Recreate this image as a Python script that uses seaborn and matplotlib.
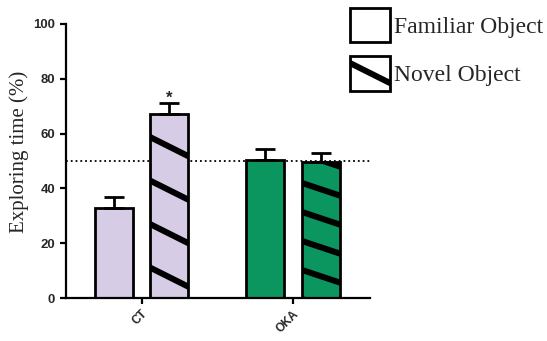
import numpy as np
import pandas as pd
import matplotlib.pyplot as plt
import matplotlib.hatch as mhatch
import seaborn as sns
from matplotlib.patches import Patch
from matplotlib.path import Path

groups = ['CT', 'OKA']
objects = ['Familiar Object', 'Novel Object']
familiar_mean = [33, 50.5]
novel_mean = [67, 49.5]
familiar_sem = [4, 4]
novel_sem = [4, 3.5]
group_colors = ['#D6CCE6', '#0B9660']
novel_hatch = ['\\', '\\\\']  # CT stripes are wider apart than OKA ones

pre_data = pd.DataFrame({
    'group': groups * 2,
    'object': [objects[0]] * 2 + [objects[1]] * 2,
    'value': familiar_mean + novel_mean,
    'sem': familiar_sem + novel_sem,
})


# thick shallow stripes: '\\' -> slope 1/2, two per cell; '\\\\' -> slope 1/3, three per cell
class ShallowHatch(mhatch.HatchPatternBase):
    def __init__(self, hatch, density):
        n = hatch.count('\\')
        if n == 0:
            self.step, self.slope, self.off = 0.5, 0, 0
            self.num_lines = 0
        elif n == 1:
            self.step, self.slope, self.off = 0.5, 0.5, 0.287
            self.num_lines = 6
        else:
            self.step, self.slope, self.off = 1 / 3, 1 / 3, 0.054
            self.num_lines = 8
        self.num_vertices = self.num_lines * 2

    def set_vertices_and_codes(self, vertices, codes):
        c = self.off + self.step * np.arange(-1, self.num_lines - 1)
        vertices[0::2, 0] = -0.5
        vertices[0::2, 1] = c + 0.5 * self.slope
        vertices[1::2, 0] = 1.5
        vertices[1::2, 1] = c - 1.5 * self.slope
        codes[0::2] = Path.MOVETO
        codes[1::2] = Path.LINETO


mhatch._hatch_types[mhatch._hatch_types.index(mhatch.SouthEastHatch)] = ShallowHatch

DPI = 87
S = 100 / DPI  # sizes below were picked for 100 dpi

sns.set_style('ticks')
plt.rcParams['hatch.linewidth'] = 5.0
plt.rcParams['hatch.color'] = 'black'

fig = plt.figure(figsize=(547 / DPI, 341 / DPI), dpi=DPI)
ax = fig.add_axes([0.1207, 0.126, 0.555, 0.804])

sns.barplot(data=pre_data, x='group', y='value', hue='object', order=groups,
            hue_order=objects, width=0.74, gap=0.32, errorbar=None,
            edgecolor='black', linewidth=2 * S, legend=False, ax=ax)

# bars come in hue order: familiar CT, familiar OKA, novel CT, novel OKA
bars = ax.patches[:4]
for i, bar in enumerate(bars):
    row = pre_data.iloc[i]
    g = groups.index(row['group'])
    bar.set_facecolor(group_colors[g])
    if row['object'] == 'Novel Object':
        bar.set_hatch(novel_hatch[g])
    cx = bar.get_x() + bar.get_width() / 2
    ax.errorbar(cx, row['value'], yerr=[[0], [row['sem']]], color='black',
                capsize=7 * S, capthick=2 * S, elinewidth=2 * S, zorder=1)

novel_ct = bars[2]
ax.text(novel_ct.get_x() + novel_ct.get_width() / 2, novel_mean[0] + novel_sem[0] + 4.5, '*',
        ha='center', va='top', fontsize=12 * S, fontweight='bold', family='Liberation Sans')

ax.axhline(50, color='black', linestyle=':', linewidth=1.3 * S, zorder=0)

ax.set_xlim(-0.5, 1.51)
ax.set_ylim(0, 100)
ax.set_yticks(range(0, 101, 20))
ax.set_xlabel('')
ax.set_ylabel('Exploring time (%)', fontsize=15 * S, family='Liberation Serif')
ax.yaxis.set_label_coords(-0.122, 0.533)
for s in ['top', 'right']:
    ax.spines[s].set_visible(False)
for s in ['left', 'bottom']:
    ax.spines[s].set_linewidth(1.6 * S)
    ax.spines[s].set_color('black')
ax.tick_params(axis='both', width=1.6 * S, length=4 * S, pad=3 * S, color='black')
ax.tick_params(axis='y', pad=4 * S)
for lab in ax.get_yticklabels():
    lab.set_fontweight('bold')
    lab.set_fontsize(9.5 * S)
    lab.set_family('Liberation Sans')
for lab in ax.get_xticklabels():
    lab.set_fontweight('bold')
    lab.set_fontsize(8.5 * S)
    lab.set_family('Liberation Sans')
    lab.set_rotation(45)
    lab.set_ha('right')
    lab.set_rotation_mode('anchor')

handles = [Patch(facecolor='white', edgecolor='black', linewidth=2 * S, label=objects[0]),
           Patch(facecolor='white', edgecolor='black', linewidth=2 * S, hatch='\\', label=objects[1])]
fig.legend(handles=handles, loc='upper left', bbox_to_anchor=(350 / 547, 1 - 8 / 341), frameon=False,
           prop={'family': 'Liberation Serif', 'size': 17 * S}, handlelength=1.7, handleheight=1.85,
           handletextpad=0.15, labelspacing=0.6, borderpad=0, borderaxespad=0)

plt.savefig('out.png', dpi=DPI)
